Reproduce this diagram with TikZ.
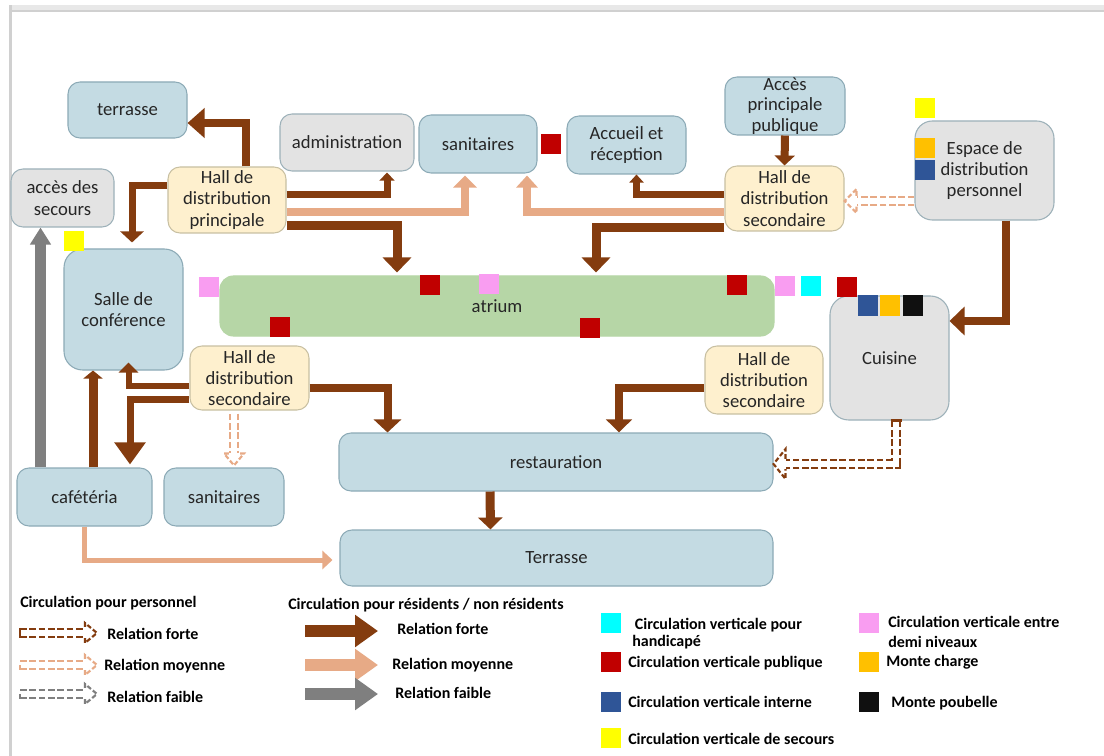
\documentclass[tikz,border=0pt]{standalone}
\usepackage{fontspec}
\setmainfont{Carlito}
\usetikzlibrary{arrows.meta,calc}
\definecolor{bxblue}{HTML}{C4DBE3}
\definecolor{bxblueb}{HTML}{8CAAB6}
\definecolor{bxgray}{HTML}{E3E3E3}
\definecolor{bxgrayb}{HTML}{9DB1B9}
\definecolor{bxcream}{HTML}{FEF0CE}
\definecolor{bxcreamb}{HTML}{C8C0A2}
\definecolor{atgreen}{HTML}{B6D6A6}
\definecolor{cBrown}{HTML}{843C0F}
\definecolor{cTan}{HTML}{E7AA86}
\definecolor{cGray}{HTML}{7F7F7F}
\definecolor{cRed}{HTML}{C00000}
\definecolor{cPink}{HTML}{F99DF1}
\definecolor{cCyan}{HTML}{00FFFF}
\definecolor{cOrange}{HTML}{FFC000}
\definecolor{cBlue}{HTML}{2F5597}
\definecolor{cBlack}{HTML}{101010}
\definecolor{cYellow}{HTML}{FFFF00}
\definecolor{frameband}{HTML}{E8E8E8}
\definecolor{frameline}{HTML}{D0D0D0}
\definecolor{txt}{HTML}{262626}
\newcommand\hollowtip[4]{%
  \draw[#3, line width=1.6pt, dash pattern=on 3.5pt off 1.8pt, line join=miter, shift={#1}, rotate=#2]
    (-12,5.2) -- (-12,#4) -- (0,0) -- (-12,-#4) -- (-12,-5.2);}
\begin{document}
\begin{tikzpicture}[x=0.75pt,y=-0.75pt,
  box/.style={draw, rounded corners=9pt, line width=0.8pt, align=center, inner sep=0pt,
    font=\fontsize{14}{16}\selectfont, text=txt},
  wh/.style 2 args={minimum width=#1*0.75pt, minimum height=#2*0.75pt},
  bluebox/.style={box, fill=bxblue, draw=bxblueb},
  graybox/.style={box, fill=bxgray, draw=bxgrayb},
  hallbox/.style={box, fill=bxcream, draw=bxcreamb},
  atbox/.style={box, fill=atgreen, draw=atgreen, rounded corners=10pt},
  sq/.style={minimum size=15pt, inner sep=0pt, draw=none},
  ar/.style n args={4}{draw=#1, line width=#2, -{Triangle[width=#3,length=#4]}, line join=miter},
  hol/.style={draw=#1, line width=1.6pt, double=white, double distance=4.6pt, dash pattern=on 5pt off 2pt, line join=miter},
  legtxt/.style={anchor=west, inner sep=0pt, font=\bfseries\fontsize{12}{14}\selectfont, text=black, align=left}
]
\useasboundingbox (0,0) rectangle (1104,756);
\fill[white] (0,0) rectangle (1104,756);
% frame
\fill[frameband] (9,5) rectangle (1104,11);
\draw[frameline, line width=0.9pt] (9,11) -- (1104,11);
\fill[frameline] (9,5) rectangle (12,756);

% nodes
\node[bluebox, wh={119}{56}] (terr) at (127.5,110) {terrasse};
\node[graybox, wh={134}{57}] (admin) at (347,142.5) {administration};
\node[bluebox, wh={118}{58}] (san1) at (478,144) {sanitaires};
\node[bluebox, wh={119}{58}] (acc) at (626.5,145) {Accueil et\\réception};
\node[bluebox, wh={120}{58}, font=\fontsize{14}{15.2}\selectfont] (pub) at (785,106) {Accès\\principale\\publique};
\node[graybox, wh={139}{99}, rounded corners=13pt] (esp) at (984.5,170.5) {Espace de\\distribution\\personnel};
\node[hallbox, wh={118}{66}] (hallP) at (227,200) {Hall de\\distribution\\principale};
\node[hallbox, wh={119}{65}] (hallA) at (784.5,198.5) {Hall de\\distribution\\secondaire};
\node[graybox, wh={103}{58}] (sec) at (62.5,198) {accès des\\secours};
\node[bluebox, wh={119}{121}, rounded corners=14pt] (salle) at (123.5,309.5) {Salle de\\conférence};
\node[atbox, wh={554}{60}] (atr) at (497,306) {atrium};
\node[graybox, wh={119}{124}, rounded corners=14pt] (cui) at (889.5,358) {Cuisine};
\node[hallbox, wh={119}{64}] (hallB) at (249.5,378) {Hall de\\distribution\\secondaire};
\node[hallbox, wh={118}{68}] (hallC) at (764,380) {Hall de\\distribution\\secondaire};
\node[bluebox, wh={434}{58}] (resto) at (556,462) {restauration};
\node[bluebox, wh={135}{58}] (cafe) at (84.5,497) {cafétéria};
\node[bluebox, wh={120}{58}] (san2) at (224,497) {sanitaires};
\node[bluebox, wh={433}{56}] (terr2) at (556.5,558) {Terrasse};

% squares
\node[sq, fill=cRed] (q1) at (551,144) {};
\node[sq, fill=cYellow] (q2) at (925,108) {};
\node[sq, fill=cOrange] (q3) at (925,148.5) {};
\node[sq, fill=cBlue] (q4) at (925,170) {};
\node[sq, fill=cYellow] (q5) at (73.5,241) {};
\node[sq, fill=cPink] (q6) at (208.5,287.5) {};
\node[sq, fill=cRed] (q7) at (430,285.5) {};
\node[sq, fill=cPink] (q8) at (489,284) {};
\node[sq, fill=cRed] (q9) at (279.5,327) {};
\node[sq, fill=cRed] (q10) at (590,328) {};
\node[sq, fill=cRed] (q11) at (737,285.5) {};
\node[sq, fill=cPink] (q12) at (785,286.5) {};
\node[sq, fill=cCyan] (q13) at (811,286.5) {};
\node[sq, fill=cRed] (q14) at (847,287) {};
\node[sq, fill=cBlue] (q15) at (868,305.5) {};
\node[sq, fill=cOrange] (q16) at (890,305.5) {};
\node[sq, fill=cBlack] (q17) at (913,305.5) {};

% arrows
\draw[ar={cBrown}{6pt}{21.75pt}{12.75pt}] ($(hallP.north)+(19,0)$) |- ($(terr.east)+(0,13)$);
\draw[ar={cBrown}{5.25pt}{17.25pt}{8.25pt}] ($(hallP.west)+(0,-14)$) -| ($(salle.north)+(8.5,-6)$);
\draw[ar={cBrown}{5.25pt}{11pt}{6pt}] ($(hallP.east)+(0,-5)$) -| ($(admin.south)+(40,1)$);
\draw[ar={cTan}{6pt}{17.25pt}{9pt}] ($(hallP.east)+(0,12)$) -| ($(san1.south)+(-13,2)$);
\draw[ar={cBrown}{6.75pt}{21pt}{11.25pt}] ($(hallP.east)+(0,26)$) -| ($(atr.north)+(-100,-3)$);
\draw[ar={cBrown}{5.25pt}{10.5pt}{6pt}] ($(hallA.west)+(0,-3.5)$) -| ($(acc.south)+(10,0)$);
\draw[ar={cTan}{6pt}{15.75pt}{9pt}] ($(hallA.west)+(0,14)$) -| ($(san1.south)+(49,2)$);
\draw[ar={cBrown}{6.75pt}{21pt}{11.25pt}] ($(hallA.west)+(0,29)$) -| ($(atr.north)+(99,-3)$);
\draw[ar={cBrown}{6pt}{15pt}{7.5pt}] (pub.south) -- (hallA.north);
\draw[ar={cBrown}{6pt}{21pt}{11.25pt}] ($(esp.south)+(21.5,0)$) |- ($(cui.east)+(0,-37)$);
\draw[ar={cGray}{8.25pt}{15pt}{12.75pt}] ($(cafe.north)+(-44,0)$) -- ($(sec.south)+(-22,0)$);
\draw[ar={cBrown}{6.75pt}{14.25pt}{6pt}] ($(cafe.north)+(8.5,0)$) -- ($(salle.south)+(-30.5,0)$);
\draw[ar={cBrown}{4.5pt}{14.25pt}{7.5pt}] ($(hallB.west)+(0,7.5)$) -| ($(salle.south)+(5,-8)$);
\draw[ar={cBrown}{5.25pt}{22.5pt}{16.5pt}] ($(hallB.west)+(0,21.5)$) -| ($(cafe.north)+(45.5,-3)$);
\draw[ar={cBrown}{6pt}{20.25pt}{9.75pt}] ($(hallB.east)+(0,10)$) -| ($(resto.north)+(-168.5,0)$);
\draw[ar={cBrown}{6pt}{19pt}{9.75pt}] ($(hallC.west)+(0,8)$) -| ($(resto.north)+(63,0)$);
\draw[ar={cBrown}{6.75pt}{18pt}{9pt}] ($(resto.south)+(-66,0)$) -- ($(terr2.north)+(-66,0)$);
\draw[ar={cTan}{3.75pt}{13.5pt}{7.5pt}] (cafe.south) |- ($(terr2.west)+(-7,2)$);

% hollow dashed arrows
\draw[hol=cTan] (esp.west |- 0,201) -- ($(hallA.east |- 0,201)+(12,0)$);
\hollowtip{(hallA.east |- 0,201)}{180}{cTan}{12}
\draw[hol=cTan] ($(hallB.south)+(-15.5,3)$) -- ($(san2.north)+(10,-14)$);
\hollowtip{($(san2.north)+(10,-2)$)}{-90}{cTan}{10}
\draw[hol=cBrown] ($(cui.south)+(6.5,0)$) |- ($(resto.east)+(12,2)$);
\draw[cBrown, line width=1.6pt] ($(cui.south)+(1,0)$) -- ($(cui.south)+(12,0)$);
\hollowtip{($(resto.east)+(0,2)$)}{180}{cBrown}{15}

% legend
\node[legtxt] (lh1) at (20,603) {Circulation pour personnel};
\node[legtxt] (lh2) at (288,605) {Circulation pour résidents / non résidents};

\coordinate (d1s) at (20,633); \coordinate (d1e) at (97,633);
\coordinate (d2s) at (20,665); \coordinate (d2e) at (97,665);
\coordinate (d3s) at (20,694); \coordinate (d3e) at (97,694);
\draw[hol=cBrown] (d1s) -- ($(d1e)+(-12,0)$);
\draw[cBrown, line width=1.6pt] ($(d1s)+(0,-5.2)$) -- ($(d1s)+(0,5.2)$);
\hollowtip{(d1e)}{0}{cBrown}{10}
\draw[hol=cTan] (d2s) -- ($(d2e)+(-12,0)$);
\draw[cTan, line width=1.6pt] (d2s) -- ($(d2s)+(0,5.2)$);
\hollowtip{(d2e)}{0}{cTan}{10}
\draw[hol=cGray] (d3s) -- ($(d3e)+(-12,0)$);
\draw[cGray, line width=1.6pt] (d3s) -- ($(d3s)+(0,5.2)$);
\hollowtip{(d3e)}{0}{cGray}{10}
\node[legtxt] (lt1) at (107,634) {Relation forte};
\node[legtxt] (lt2) at (104,666) {Relation moyenne};
\node[legtxt] (lt3) at (107,697) {Relation faible};

\coordinate (b1s) at (305,631); \coordinate (b1e) at (378,631);
\coordinate (b2s) at (305,665); \coordinate (b2e) at (378,665);
\coordinate (b3s) at (305,694); \coordinate (b3e) at (378,694);
\draw[ar={cBrown}{9pt}{23.25pt}{17.25pt}] (b1s) -- (b1e);
\draw[ar={cTan}{9pt}{23.25pt}{17.25pt}] (b2s) -- (b2e);
\draw[ar={cGray}{9pt}{23.25pt}{17.25pt}] (b3s) -- (b3e);
\node[legtxt] (lr1) at (397,629) {Relation forte};
\node[legtxt] (lr2) at (392,665) {Relation moyenne};
\node[legtxt] (lr3) at (395,693) {Relation faible};

\node[sq, fill=cCyan] (k1) at (611,623) {};
\node[sq, fill=cRed] (k2) at (611,662) {};
\node[sq, fill=cBlue] (k3) at (611,702) {};
\node[sq, fill=cYellow] (k4) at (611,738) {};
\node[sq, fill=cPink] (k5) at (869,623) {};
\node[sq, fill=cOrange] (k6) at (869,662) {};
\node[sq, fill=cBlack] (k7) at (869,702) {};
\node[legtxt, font=\bfseries\fontsize{12}{12.8}\selectfont] (kt1) at (632,634) {\hspace{2pt}Circulation verticale pour\\handicapé};
\node[legtxt] (kt2) at (628,663) {Circulation verticale publique};
\node[legtxt] (kt3) at (628,702) {Circulation verticale interne};
\node[legtxt] (kt4) at (628,739) {Circulation verticale de secours};
\node[legtxt, font=\bfseries\fontsize{12}{14.5}\selectfont] (kt5) at (888,632) {Circulation verticale entre\\demi niveaux};
\node[legtxt] (kt6) at (886,662) {Monte charge};
\node[legtxt] (kt7) at (891,703) {Monte poubelle};
\end{tikzpicture}
\end{document}
